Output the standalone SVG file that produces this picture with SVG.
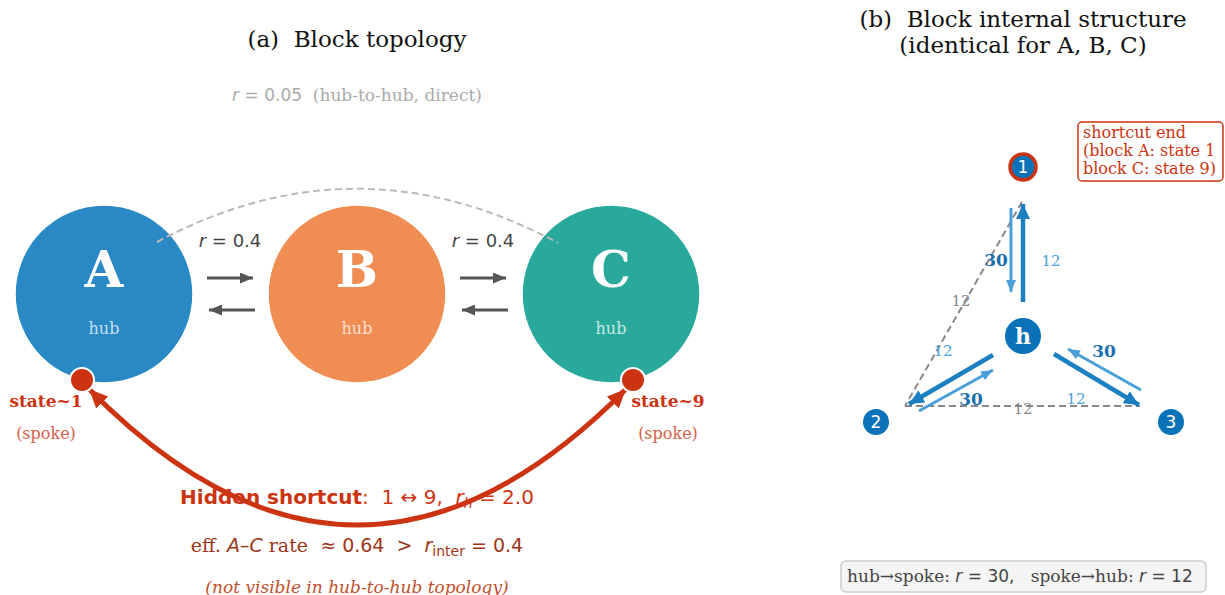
<svg xmlns="http://www.w3.org/2000/svg" width="1225" height="595" viewBox="0 0 1225 595">
<defs>
<style>
text{white-space:pre}
.serif{font-family:"DejaVu Serif","Liberation Serif",serif}
.sans{font-family:"DejaVu Sans","Liberation Sans",sans-serif}
.title{font-size:23px;fill:#111}
.big{font-size:50px;font-weight:bold;fill:#fff}
.hub{font-size:16px;fill:#fff;fill-opacity:0.75}
.rlab{font-size:18px;fill:#444}
.state{font-size:17px;font-weight:bold;fill:#cc3311}
.spoke{font-size:16px;fill:#d9604a}
.n30{font-size:17px;font-weight:bold;fill:#1a6fae}
.n12{font-size:15px;fill:#4aa0d8}
.g12{font-size:15px;fill:#888}
.hz{stroke:#555;stroke-width:3;fill:none}
.thick{stroke:#1c7fc1;stroke-width:4.5;fill:none}
.thin{stroke:#4a9fd8;stroke-width:3;fill:none}
.dash{stroke:#888;stroke-width:2;stroke-dasharray:7,4;fill:none}
.node{fill:#0a72b7}
</style>
<marker id="mg" viewBox="0 0 13 11" refX="13" refY="5.5" markerWidth="13" markerHeight="11" markerUnits="userSpaceOnUse" orient="auto"><path d="M0,0 L13,5.5 L0,11 Z" fill="#555"/></marker>
<marker id="mr" viewBox="0 0 19 17" refX="19" refY="8.5" markerWidth="19" markerHeight="17" markerUnits="userSpaceOnUse" orient="auto-start-reverse"><path d="M0,0 L19,8.5 L0,17 Z" fill="#cc3311"/></marker>
<marker id="mb" viewBox="0 0 15 14" refX="15" refY="7" markerWidth="15" markerHeight="14" markerUnits="userSpaceOnUse" orient="auto"><path d="M0,0 L15,7 L0,14 Z" fill="#1c7fc1"/></marker>
<marker id="ml" viewBox="0 0 12 10" refX="12" refY="5" markerWidth="12" markerHeight="10" markerUnits="userSpaceOnUse" orient="auto"><path d="M0,0 L12,5 L0,10 Z" fill="#4a9fd8"/></marker>
</defs>
<rect width="1225" height="595" fill="#fff"/>

<!-- Panel (a) -->
<text class="serif title" x="357" y="47" text-anchor="middle">(a)  Block topology</text>
<text class="serif" x="357" y="101" text-anchor="middle" font-size="17" fill="#aaa"><tspan class="sans" font-style="italic">r</tspan><tspan class="sans"> = 0.05</tspan>  (hub-to-hub, direct)</text>

<g id="blockA">
<circle cx="104" cy="294" r="89" fill="#2989c5" stroke="#fff" stroke-width="1.5"/>
<text class="serif big" x="104" y="287" text-anchor="middle">A</text>
<text class="serif hub" x="104" y="334" text-anchor="middle">hub</text>
</g>
<g id="blockB">
<circle cx="357" cy="294" r="89" fill="#f08d52" stroke="#fff" stroke-width="1.5"/>
<text class="serif big" x="357" y="287" text-anchor="middle">B</text>
<text class="serif hub" x="357" y="334" text-anchor="middle">hub</text>
</g>
<g id="blockC">
<circle cx="611" cy="294" r="89" fill="#29a99b" stroke="#fff" stroke-width="1.5"/>
<text class="serif big" x="611" y="287" text-anchor="middle">C</text>
<text class="serif hub" x="611" y="334" text-anchor="middle">hub</text>
</g>

<g id="connectors">
<path d="M157,242 Q357,135 558,243" stroke="#bbb" stroke-width="2" stroke-dasharray="7,4" fill="none"/>
<line class="hz" x1="207" y1="278" x2="253" y2="278" marker-end="url(#mg)"/>
<line class="hz" x1="255" y1="310" x2="209" y2="310" marker-end="url(#mg)"/>
<line class="hz" x1="460" y1="278" x2="506" y2="278" marker-end="url(#mg)"/>
<line class="hz" x1="508" y1="310" x2="462" y2="310" marker-end="url(#mg)"/>
<path d="M89,389 Q357,661 626,389" stroke="#cc3311" stroke-width="5" fill="none" marker-start="url(#mr)" marker-end="url(#mr)"/>
</g>
<text class="sans rlab" x="230" y="247" text-anchor="middle"><tspan font-style="italic">r</tspan> = 0.4</text>
<text class="sans rlab" x="483" y="247" text-anchor="middle"><tspan font-style="italic">r</tspan> = 0.4</text>

<g id="state1">
<circle cx="82" cy="380" r="12" fill="#cc3311" stroke="#fff" stroke-width="2"/>
<text class="serif state" x="46" y="407" text-anchor="middle">state~1</text>
<text class="serif spoke" x="46" y="439" text-anchor="middle">(spoke)</text>
</g>
<g id="state9">
<circle cx="633" cy="380" r="12" fill="#cc3311" stroke="#fff" stroke-width="2"/>
<text class="serif state" x="668" y="407" text-anchor="middle">state~9</text>
<text class="serif spoke" x="668" y="439" text-anchor="middle">(spoke)</text>
</g>

<text class="sans" x="357" y="504" text-anchor="middle" font-size="20" fill="#cc3311"><tspan font-weight="bold">Hidden shortcut</tspan>:  1 ↔ 9,  <tspan font-style="italic">r</tspan><tspan font-size="14" font-style="italic" dy="4">h</tspan><tspan dy="-4"> = 2.0</tspan></text>
<text class="serif" x="357" y="552" text-anchor="middle" font-size="19" fill="#9e3618">eff. <tspan class="sans" font-style="italic">A</tspan><tspan class="sans">–</tspan><tspan class="sans" font-style="italic">C</tspan> rate  <tspan class="sans">≈ 0.64  &gt;  </tspan><tspan class="sans" font-style="italic">r</tspan><tspan class="sans" font-size="14" dy="4">inter</tspan><tspan class="sans" dy="-4"> = 0.4</tspan></text>
<text class="serif" x="357" y="593" text-anchor="middle" font-size="17" font-style="italic" fill="#c0502e">(not visible in hub-to-hub topology)</text>

<!-- Panel (b) -->
<text class="serif title" x="1023" y="27" text-anchor="middle">(b)  Block internal structure</text>
<text class="serif title" x="1023" y="53" text-anchor="middle">(identical for A, B, C)</text>

<g id="connectors-b">
<line class="dash" x1="1022" y1="202" x2="905" y2="406"/>
<line class="dash" x1="905" y1="406" x2="1140" y2="406"/>
<line class="thick" x1="1023" y1="302" x2="1023" y2="204" marker-end="url(#mb)"/>
<line class="thin" x1="1011" y1="208" x2="1011" y2="292" marker-end="url(#ml)"/>
<line class="thick" x1="993" y1="355" x2="909" y2="404" marker-end="url(#mb)"/>
<line class="thin" x1="919" y1="411" x2="993" y2="370" marker-end="url(#ml)"/>
<line class="thick" x1="1054" y1="354" x2="1139" y2="405" marker-end="url(#mb)"/>
<line class="thin" x1="1141" y1="390" x2="1068" y2="349" marker-end="url(#ml)"/>
</g>
<text class="serif g12" x="961" y="306" text-anchor="middle">12</text>
<text class="serif g12" x="1023" y="414" text-anchor="middle">12</text>
<text class="serif n30" x="996" y="266" text-anchor="middle">30</text>
<text class="serif n12" x="1051" y="266" text-anchor="middle">12</text>
<text class="serif n30" x="971" y="405" text-anchor="middle">30</text>
<text class="serif n12" x="943" y="356" text-anchor="middle">12</text>
<text class="serif n30" x="1104" y="357" text-anchor="middle">30</text>
<text class="serif n12" x="1076" y="404" text-anchor="middle">12</text>

<g id="node1">
<circle class="node" cx="1023" cy="167" r="13" stroke="#cc3311" stroke-width="3.5"/>
<text class="sans" x="1023" y="173" text-anchor="middle" font-size="17" fill="#fff">1</text>
</g>
<g id="nodeh">
<circle class="node" cx="1023" cy="336" r="18"/>
<text class="serif" x="1023" y="344" text-anchor="middle" font-size="22" font-weight="bold" fill="#fff">h</text>
</g>
<g id="node2">
<circle class="node" cx="876" cy="422" r="13"/>
<text class="sans" x="876" y="428" text-anchor="middle" font-size="17" fill="#fff">2</text>
</g>
<g id="node3">
<circle class="node" cx="1171" cy="422" r="13"/>
<text class="sans" x="1171" y="428" text-anchor="middle" font-size="17" fill="#fff">3</text>
</g>

<g id="shortcut-note">
<rect x="1078" y="122" width="145" height="59" rx="4" fill="#fff" stroke="#cc3311" stroke-width="1.5"/>
<text class="serif" font-size="16" fill="#cc3311"><tspan x="1083" y="138">shortcut end</tspan><tspan x="1083" y="156">(block A: state 1</tspan><tspan x="1083" y="174">block C: state 9)</tspan></text>
</g>

<g id="legend">
<rect x="841" y="561" width="365" height="31" rx="5" fill="#f5f5f5" stroke="#ccc" stroke-width="1.5"/>
<text class="serif" x="847" y="582" font-size="17" fill="#444">hub→spoke: <tspan class="sans" font-style="italic">r</tspan><tspan class="sans"> = 30,</tspan>   spoke→hub: <tspan class="sans" font-style="italic">r</tspan><tspan class="sans"> = 12</tspan></text>
</g>
</svg>
